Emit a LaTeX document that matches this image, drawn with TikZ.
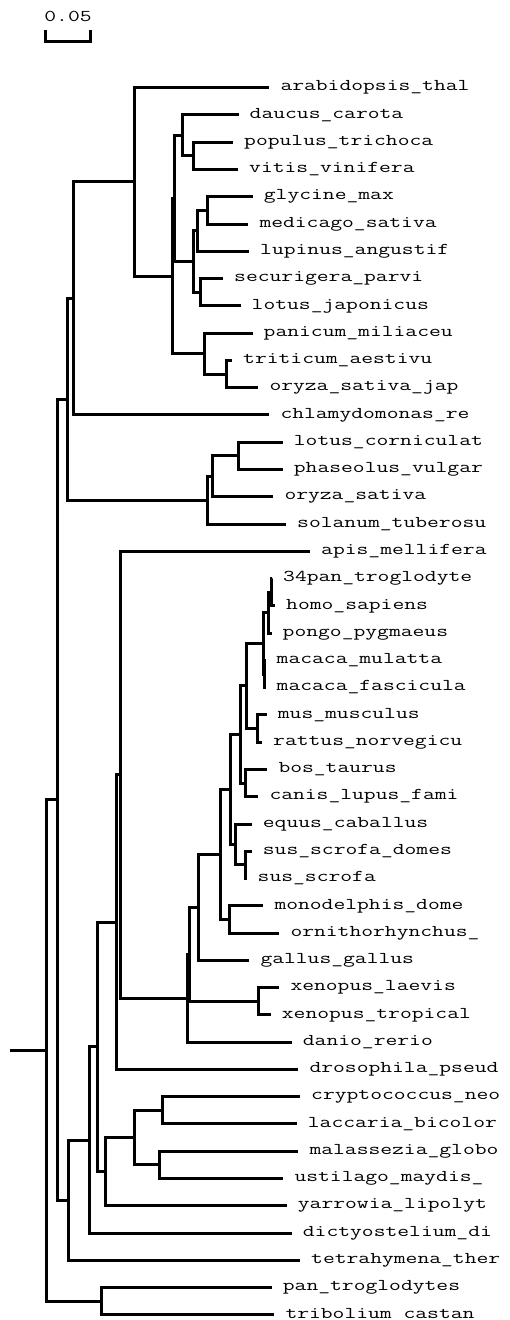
\documentclass[tikz,border=0pt]{standalone}
\usepackage{fontspec}
\usepackage{graphicx}
\usetikzlibrary{calc}
\newcommand\wide[1]{\scalebox{1.39}[1]{#1}}
\newcommand\leaf[4]{\coordinate (#1) at (#2,#3); \node[lab] (#1t) at ([shift={(11,3.2)}]#1) {\wide{#4}};}
\begin{document}
\begin{tikzpicture}[x=1pt,y=-1pt,
  br/.style={line width=3pt, line join=miter},
  lab/.style={font=\ttfamily\fontsize{16.5}{18}\selectfont, anchor=base west, inner sep=0pt, text=black},
]
\useasboundingbox (0,0) rectangle (509,1320);
% scale bar
\coordinate (sbl) at (45.5,30);
\coordinate (sblb) at (45.5,41.7);
\coordinate (sbrb) at (90.5,41.7);
\coordinate (sbr) at (90.5,30);
\draw[br] (sbl) -- (sblb) -- (sbrb) -- (sbr);
\node[lab, anchor=base] (sbt) at (68,21.7) {\wide{0.05}};
% leaves
\leaf{l1}{269.3}{87.7}{arabidopsis\_thal}
\leaf{l2}{238.5}{114.97}{daucus\_carota}
\leaf{l3}{233}{142.24}{populus\_trichoca}
\leaf{l4}{238}{169.51}{vitis\_vinifera}
\leaf{l5}{252.7}{196.78}{glycine\_max}
\leaf{l6}{248.3}{224.05}{medicago\_sativa}
\leaf{l7}{249}{251.32}{lupinus\_angustif}
\leaf{l8}{223}{278.59}{securigera\_parvi}
\leaf{l9}{240.5}{305.86}{lotus\_japonicus}
\leaf{l10}{252.5}{333.13}{panicum\_miliaceu}
\leaf{l11}{232}{360.4}{triticum\_aestivu}
\leaf{l12}{258.3}{387.67}{oryza\_sativa\_jap}
\leaf{l13}{269.3}{414.94}{chlamydomonas\_re}
\leaf{l14}{282.7}{442.21}{lotus\_corniculat}
\leaf{l15}{282.7}{469.48}{phaseolus\_vulgar}
\leaf{l16}{273.3}{496.75}{oryza\_sativa}
\leaf{l17}{286}{524.02}{solanum\_tuberosu}
\leaf{l18}{310}{551.29}{apis\_mellifera}
\leaf{l19}{272}{578.56}{34pan\_troglodyte}
\leaf{l20}{275}{605.83}{homo\_sapiens}
\leaf{l21}{271.5}{633.1}{pongo\_pygmaeus}
\leaf{l22}{265.5}{660.37}{macaca\_mulatta}
\leaf{l23}{265.5}{687.64}{macaca\_fascicula}
\leaf{l24}{266.7}{714.91}{mus\_musculus}
\leaf{l25}{262}{742.18}{rattus\_norvegicu}
\leaf{l26}{267.3}{769.45}{bos\_taurus}
\leaf{l27}{258.3}{796.72}{canis\_lupus\_fami}
\leaf{l28}{251.7}{823.99}{equus\_caballus}
\leaf{l29}{251.7}{851.26}{sus\_scrofa\_domes}
\leaf{l30}{246.5}{878.53}{sus\_scrofa}
\leaf{l31}{263.3}{905.8}{monodelphis\_dome}
\leaf{l32}{279.3}{933.07}{ornithorhynchus\_}
\leaf{l33}{249.3}{960.34}{gallus\_gallus}
\leaf{l34}{279.3}{987.61}{xenopus\_laevis}
\leaf{l35}{270.7}{1014.88}{xenopus\_tropical}
\leaf{l36}{291.7}{1042.15}{danio\_rerio}
\leaf{l37}{298.3}{1069.42}{drosophila\_pseud}
\leaf{l38}{300}{1096.69}{cryptococcus\_neo}
\leaf{l39}{296.7}{1123.96}{laccaria\_bicolor}
\leaf{l40}{298.3}{1151.23}{malassezia\_globo}
\leaf{l41}{283.3}{1178.5}{ustilago\_maydis\_}
\leaf{l42}{286.7}{1205.77}{yarrowia\_lipolyt}
\leaf{l43}{291.7}{1233.04}{dictyostelium\_di}
\leaf{l44}{300}{1260.31}{tetrahymena\_ther}
\leaf{l45}{271.7}{1287.58}{pan\_troglodytes}
\leaf{l46}{274.3}{1314.85}{tribolium\_castan}
% internal nodes
\coordinate (H) at (193,155.88);
\coordinate (G) at (182,135.42);
\coordinate (K) at (207,210.41);
\coordinate (J) at (197,230.87);
\coordinate (L) at (200.7,292.23);
\coordinate (I) at (193,261.55);
\coordinate (F) at (174.7,198.49);
\coordinate (N) at (226,374.04);
\coordinate (M) at (204,353.58);
\coordinate (E) at (172,276.04);
\coordinate (D) at (134.5,181.87);
\coordinate (C) at (73,298.4);
\coordinate (Q) at (238,455.85);
\coordinate (P) at (212,476.3);
\coordinate (O) at (207,500.16);
\coordinate (B) at (67,399.28);
\coordinate (AM) at (271,592.2);
\coordinate (AK) at (268.3,612.65);
\coordinate (AL) at (264,674.0);
\coordinate (AJ) at (263.3,643.3);
\coordinate (AI) at (257.3,728.55);
\coordinate (AH) at (246.7,685.9);
\coordinate (AG) at (245,783.1);
\coordinate (AF) at (240,734.5);
\coordinate (AE) at (245,864.9);
\coordinate (AD) at (235,844.4);
\coordinate (AC) at (230,789.45);
\coordinate (AB) at (229,919.4);
\coordinate (AA) at (220,854.4);
\coordinate (Y) at (198,907.4);
\coordinate (Z) at (258,1001.2);
\coordinate (X) at (189.5,954.3);
\coordinate (W) at (187.3,998.2);
\coordinate (V) at (120.5,774.7);
\coordinate (U) at (116,922.1);
\coordinate (AP) at (162.7,1110.3);
\coordinate (AQ) at (159.3,1164.9);
\coordinate (AO) at (134.3,1137.6);
\coordinate (AN) at (105,1171.7);
\coordinate (T) at (97.7,1046.9);
\coordinate (S) at (89.3,1140);
\coordinate (R) at (68,1200.2);
\coordinate (A) at (57,799.7);
\coordinate (AR) at (101.7,1301.2);
\coordinate (root) at (46,1050.5);
\coordinate (stub) at (10,1050.5);
% branches
\foreach \p/\c in {H/l3,H/l4,G/l2,G/H,K/l5,K/l6,J/K,J/l7,L/l8,L/l9,I/J,I/L,F/G,F/I,
  N/l11,N/l12,M/l10,M/N,E/F,E/M,D/l1,D/E,C/D,C/l13,Q/l14,Q/l15,P/Q,P/l16,O/P,O/l17,B/C,B/O,
  AM/l19,AM/l20,AK/AM,AK/l21,AL/l22,AL/l23,AJ/AK,AJ/AL,AI/l24,AI/l25,AH/AJ,AH/AI,
  AG/l26,AG/l27,AF/AH,AF/AG,AE/l29,AE/l30,AD/l28,AD/AE,AC/AF,AC/AD,AB/l31,AB/l32,
  AA/AC,AA/AB,Y/AA,Y/l33,Z/l34,Z/l35,X/Y,X/Z,W/X,W/l36,V/l18,V/W,U/V,U/l37,
  AP/l38,AP/l39,AQ/l40,AQ/l41,AO/AP,AO/AQ,AN/AO,AN/l42,T/U,T/AN,S/T,S/l43,R/S,R/l44,
  A/B,A/R,AR/l45,AR/l46,root/A,root/AR}
  \draw[br] (\p) |- (\c);
\draw[br] (stub) -- (root);
\end{tikzpicture}
\end{document}
